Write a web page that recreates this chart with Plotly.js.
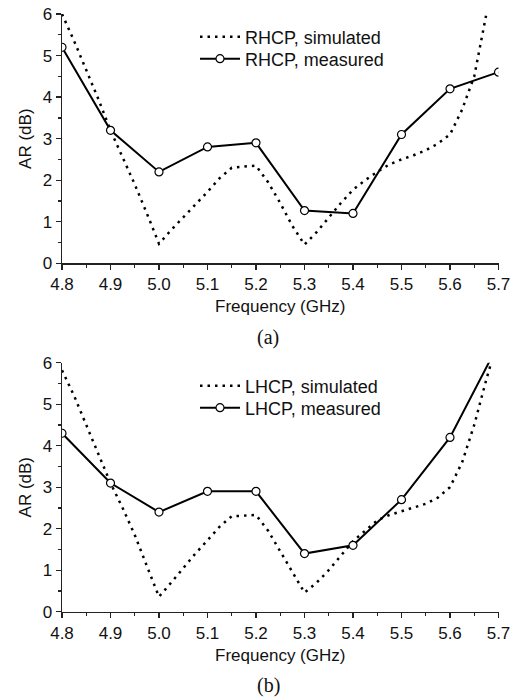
<!DOCTYPE html>
<html>
<head>
<meta charset="utf-8">
<script src="https://cdn.plot.ly/plotly-3.0.1.min.js"></script>
<style>html,body{margin:0;padding:0;background:#fff;}#chart{width:527px;height:698px;}</style>
</head>
<body>
<div id="chart"></div>
<script>
// (a) RHCP
const simFreqA = [4.8, 4.825, 4.85, 4.875, 4.9, 4.925, 4.95, 4.975, 5.0, 5.025, 5.05, 5.075, 5.1, 5.125, 5.15, 5.175, 5.2, 5.225, 5.25, 5.275, 5.3, 5.325, 5.35, 5.375, 5.4, 5.425, 5.45, 5.475, 5.5, 5.525, 5.55, 5.575, 5.6, 5.625, 5.65, 5.675];
const simARA   = [6.0, 5.35, 4.65, 3.95, 3.2, 2.55, 1.9, 1.2, 0.47, 0.8, 1.1, 1.4, 1.72, 2.05, 2.3, 2.33, 2.35, 1.95, 1.45, 0.9, 0.45, 0.75, 1.1, 1.45, 1.77, 2.0, 2.2, 2.38, 2.5, 2.6, 2.72, 2.88, 3.1, 3.7, 4.5, 6.0];
const measFreqA = [4.8, 4.9, 5.0, 5.1, 5.2, 5.3, 5.4, 5.5, 5.6, 5.7];
const measARA   = [5.2, 3.2, 2.2, 2.8, 2.9, 1.27, 1.2, 3.1, 4.2, 4.6];
// (b) LHCP
const simFreqB = [4.8, 4.825, 4.85, 4.875, 4.9, 4.925, 4.95, 4.975, 5.0, 5.025, 5.05, 5.075, 5.1, 5.125, 5.15, 5.175, 5.2, 5.225, 5.25, 5.275, 5.3, 5.325, 5.35, 5.375, 5.4, 5.425, 5.45, 5.475, 5.5, 5.525, 5.55, 5.575, 5.6, 5.625, 5.65, 5.675, 5.685];
const simARB   = [5.82, 5.2, 4.5, 3.8, 3.1, 2.5, 1.85, 1.1, 0.36, 0.7, 1.05, 1.4, 1.72, 2.05, 2.3, 2.32, 2.33, 1.95, 1.45, 0.95, 0.46, 0.7, 1.0, 1.35, 1.7, 1.95, 2.2, 2.33, 2.42, 2.5, 2.6, 2.75, 3.0, 3.6, 4.5, 5.6, 6.0];
const measFreqB = [4.8, 4.9, 5.0, 5.1, 5.2, 5.3, 5.4, 5.5, 5.6, 5.7];
const measARB   = [4.3, 3.1, 2.4, 2.9, 2.9, 1.4, 1.6, 2.7, 4.2, 6.45];
const xTicks = [4.8, 4.9, 5.0, 5.1, 5.2, 5.3, 5.4, 5.5, 5.6, 5.7];
const xTickText = ["4.8","4.9","5.0","5.1","5.2","5.3","5.4","5.5","5.6","5.7"];

const FONT = "Liberation Sans, Arial, sans-serif";
const dotLine = {color: "#000", width: 2.5, dash: "2.5px,5px"};
const solidLine = {color: "#000", width: 2};
const mk = {symbol: "circle", size: 8, color: "#fff", line: {color: "#000", width: 1.2}};

const traces = [
  {x: simFreqA, y: simARA, xaxis: "x", yaxis: "y", mode: "lines", line: dotLine, name: "RHCP, simulated", legend: "legend"},
  {x: measFreqA, y: measARA, xaxis: "x", yaxis: "y", mode: "lines+markers", line: solidLine, marker: mk, name: "RHCP, measured", legend: "legend2"},
  {x: simFreqB, y: simARB, xaxis: "x2", yaxis: "y2", mode: "lines", line: dotLine, name: "LHCP, simulated", legend: "legend3"},
  {x: measFreqB, y: measARB, xaxis: "x2", yaxis: "y2", mode: "lines+markers", line: solidLine, marker: mk, name: "LHCP, measured", legend: "legend4"}
];

function xax(anchor) {
  return {
    domain: [62/527, 498.5/527], anchor: anchor, range: [4.8, 5.7], autorange: false,
    tickmode: "array", tickvals: xTicks, ticktext: xTickText,
    ticks: "outside", ticklen: 5, tickwidth: 1.3, tickcolor: "#222",
    minor: {dtick: 0.05, tick0: 4.8, ticks: "outside", ticklen: 3, tickwidth: 1.3, tickcolor: "#222"},
    showline: true, linecolor: "#222", linewidth: 1.5, showgrid: false, zeroline: false,
    tickfont: {family: FONT, size: 17, color: "#111"},
    title: {text: "Frequency (GHz)", font: {family: FONT, size: 17, color: "#111"}, standoff: 7}
  };
}
function yax(anchor, dom) {
  return {
    domain: dom, anchor: anchor, range: [0, 6], autorange: false,
    tickvals: [0,1,2,3,4,5,6], ticks: "outside", ticklen: 5, tickwidth: 1.3, tickcolor: "#222",
    minor: {dtick: 0.5, tick0: 0, ticks: "outside", ticklen: 3, tickwidth: 1.3, tickcolor: "#222"},
    showline: true, linecolor: "#222", linewidth: 1.5, showgrid: false, zeroline: false,
    tickfont: {family: FONT, size: 17, color: "#111"},
    title: {text: "AR (dB)", font: {family: FONT, size: 17, color: "#111"}, standoff: 6}
  };
}
function leg(ycenter) {
  return {x: 195/527, y: 1 - ycenter/698, xanchor: "left", yanchor: "middle", bgcolor: "rgba(0,0,0,0)",
          font: {family: FONT, size: 18, color: "#111"}, itemwidth: 40};
}

const layout = {
  width: 527, height: 698,
  margin: {l: 0, r: 0, t: 0, b: 0},
  paper_bgcolor: "#fff", plot_bgcolor: "#fff",
  showlegend: true,
  xaxis: xax("y"),
  yaxis: yax("x", [1 - 263.3/698, 1 - 14/698]),
  xaxis2: xax("y2"),
  yaxis2: yax("x2", [1 - 611.7/698, 1 - 362.7/698]),
  legend: leg(37),
  legend2: leg(59),
  legend3: leg(386),
  legend4: leg(408),
  annotations: [
    {text: "(a)", xref: "paper", yref: "paper", x: 268/527, y: 1 - 337/698, xanchor: "center", yanchor: "middle", showarrow: false,
     font: {family: "Liberation Serif, Times New Roman, serif", size: 20, color: "#111"}},
    {text: "(b)", xref: "paper", yref: "paper", x: 268/527, y: 1 - 685/698, xanchor: "center", yanchor: "middle", showarrow: false,
     font: {family: "Liberation Serif, Times New Roman, serif", size: 20, color: "#111"}}
  ]
};

Plotly.newPlot("chart", traces, layout, {staticPlot: true, displayModeBar: false});
</script>
</body>
</html>
